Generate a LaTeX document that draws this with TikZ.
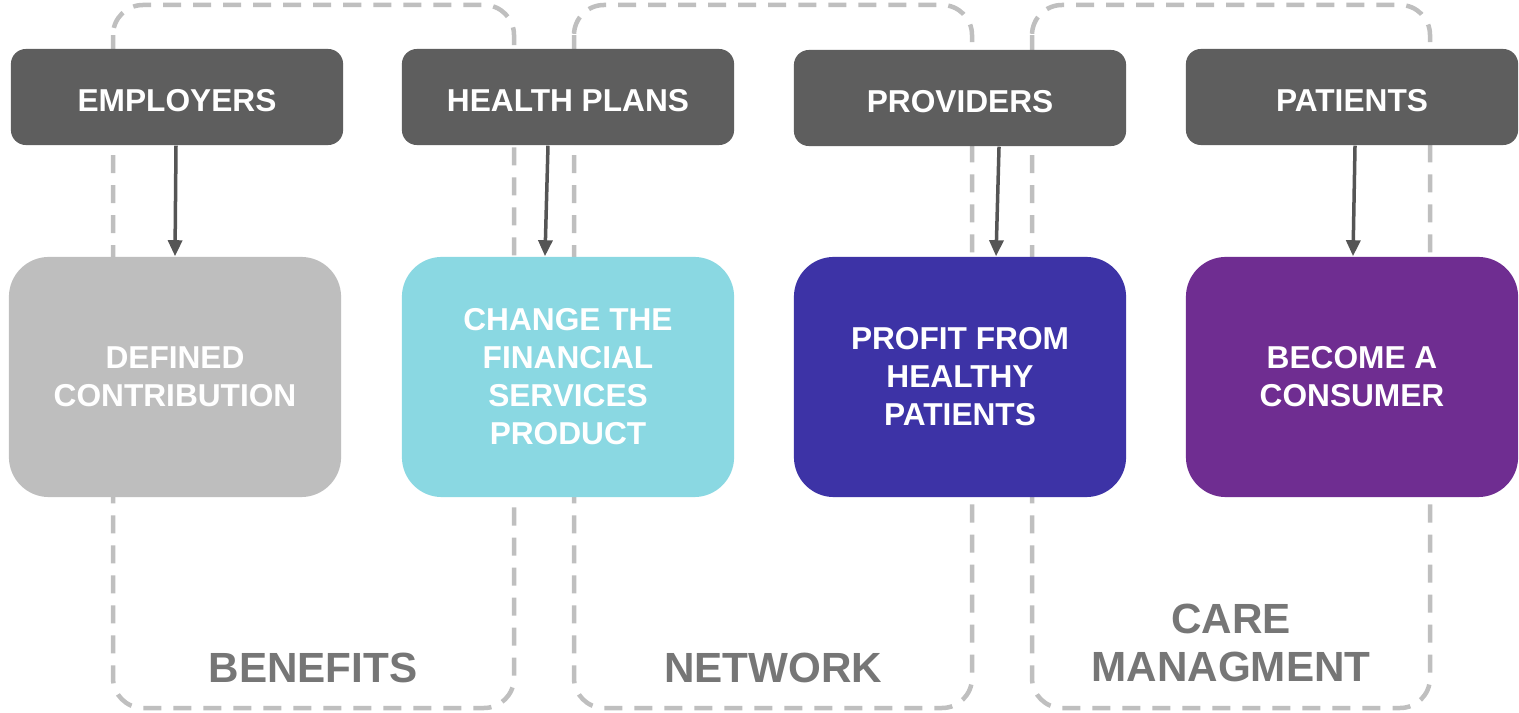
\documentclass[tikz,border=0pt]{standalone}
\usepackage{fontspec}
\setmainfont{Liberation Sans}
\usetikzlibrary{arrows.meta}

\definecolor{actorgray}{HTML}{5E5E5E}
\definecolor{dcgray}{HTML}{BEBEBE}
\definecolor{plancyan}{HTML}{8AD8E2}
\definecolor{provblue}{HTML}{3D33A6}
\definecolor{patpurple}{HTML}{6F2D91}
\definecolor{areagray}{HTML}{BFBFBF}
\definecolor{labelgray}{HTML}{767676}
\definecolor{arrowgray}{HTML}{555555}

\tikzset{
	actor/.style={fill=actorgray, rounded corners=0.15cm, minimum width=3.32cm, minimum height=0.96cm, text=white, text height=0.29cm, text depth=0cm, font=\fontsize{9}{11}\selectfont\bfseries},
	goal/.style={rounded corners=0.4cm, minimum width=3.32cm, minimum height=2.4cm, text=white, align=center, font=\fontsize{9}{10.8}\selectfont\bfseries},
	areabox/.style={draw=areagray, line width=0.045cm, dash pattern=on 0.18cm off 0.12cm, rounded corners=0.3cm, fill=white},
	arealabel/.style={text=labelgray, align=center, font=\fontsize{12}{13.4}\selectfont\bfseries},
	flow/.style={draw=arrowgray, line width=0.035cm, -{Triangle[width=0.14cm,length=0.16cm]}}
}

\begin{document}
\begin{tikzpicture}[x=0.01cm, y=-0.01cm]
		%%%%% START %%%%%
		\useasboundingbox (0,0) rectangle (1519,713);
		
		\draw[areabox] (113,5) rectangle (514,708);
		\draw[areabox] (574,5) rectangle (972,708);
		\draw[areabox] (1032,5) rectangle (1430,708);
		
		\node[actor] (emp) at (177,97) {EMPLOYERS};
		\node[actor] (hp) at (568,97) {HEALTH PLANS};
		\node[actor] (prov) at (960,98) {PROVIDERS};
		\node[actor] (pat) at (1352,97) {PATIENTS};
		
		\node[goal, fill=dcgray] (dc) at (175,377) {DEFINED\\CONTRIBUTION};
		\node[goal, fill=plancyan] (fin) at (568,377) {CHANGE THE\\FINANCIAL\\SERVICES\\PRODUCT};
		\node[goal, fill=provblue] (profit) at (960,377) {PROFIT FROM\\HEALTHY\\PATIENTS};
		\node[goal, fill=patpurple] (cons) at (1352,377) {BECOME A\\CONSUMER};
		
		\draw[flow] ([xshift=-0.01cm]emp.south) -- (dc.north);
		\draw[flow] ([xshift=-0.2cm]hp.south) -- ([xshift=-0.23cm]fin.north);
		\draw[flow] ([xshift=0.39cm]prov.south) -- ([xshift=0.36cm]profit.north);
		\draw[flow] ([xshift=0.03cm]pat.south) -- ([xshift=0.01cm]cons.north);
		
		\node[arealabel] (benlbl) at (313,668) {BENEFITS};
		\node[arealabel] (netlbl) at (773,668) {NETWORK};
		\node[arealabel] (carelbl) at (1231,643) {CARE\\MANAGMENT};
		%%%%% END %%%%%
	\end{tikzpicture}
\end{document}
